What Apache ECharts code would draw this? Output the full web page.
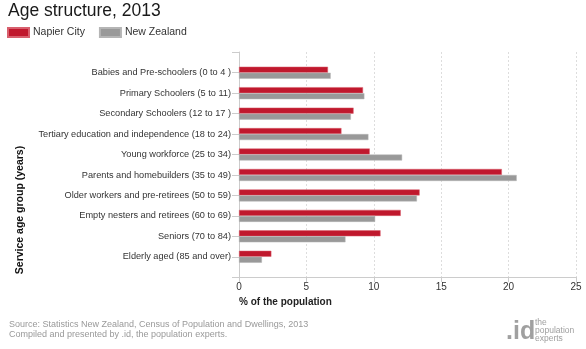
<!DOCTYPE html>
<html><head><meta charset="utf-8">
<script src="https://cdn.jsdelivr.net/npm/echarts@6/dist/echarts.min.js"></script>
<style>html,body{margin:0;padding:0;background:#fff}#c{width:586px;height:349px}</style>
</head><body><div id="c"></div>
<script>
const categories = [
  'Babies and Pre-schoolers (0 to 4 )',
  'Primary Schoolers (5 to 11)',
  'Secondary Schoolers (12 to 17 )',
  'Tertiary education and independence (18 to 24)',
  'Young workforce (25 to 34)',
  'Parents and homebuilders (35 to 49)',
  'Older workers and pre-retirees (50 to 59)',
  'Empty nesters and retirees (60 to 69)',
  'Seniors (70 to 84)',
  'Elderly aged (85 and over)'
];
const napierCity = [6.6, 9.2, 8.5, 7.6, 9.7, 19.5, 13.4, 12.0, 10.5, 2.4];
const newZealand = [6.8, 9.3, 8.3, 9.6, 12.1, 20.6, 13.2, 10.1, 7.9, 1.7];
const xTicks = [0, 5, 10, 15, 20, 25];

const font = 'Liberation Sans, Arial, sans-serif';
const chart = echarts.init(document.getElementById('c'), null, {renderer: 'canvas'});
chart.setOption({
  animation: false,
  textStyle: {fontFamily: font},
  title: {
    text: 'Age structure, 2013', left: 8, top: 2, padding: 0,
    textStyle: {fontSize: 17.5, fontWeight: 'normal', color: '#1a1a1a', fontFamily: font}
  },
  legend: {
    left: 7, top: 27, padding: 0, itemWidth: 21, itemHeight: 9, itemGap: 14,
    icon: 'rect',
    textStyle: {fontSize: 10.5, color: '#333', fontFamily: font, padding: [0, 0, 0, -1]},
    data: ['Napier City', 'New Zealand']
  },
  grid: [
    {left: 239, right: 10, top: 52, height: 225},
    {left: 239, right: 10, top: 62.5, height: 204.5}
  ],
  xAxis: [
    {
      type: 'value', gridIndex: 0, min: xTicks[0], max: xTicks[xTicks.length - 1], interval: 5,
      axisLine: {show: true, lineStyle: {color: '#ccc'}},
      axisTick: {show: true, length: 5, lineStyle: {color: '#ccc'}},
      axisLabel: {fontSize: 10, color: '#333', margin: 5, fontFamily: font},
      splitLine: {show: true, lineStyle: {color: '#ddd', type: [2, 2]}},
      name: '% of the population', nameLocation: 'start', nameGap: 0,
      nameTextStyle: {align: 'left', verticalAlign: 'top', fontSize: 10, fontWeight: 'bold', color: '#222', padding: [20, 0, 0, 0], fontFamily: font}
    },
    {
      type: 'value', gridIndex: 1, min: xTicks[0], max: xTicks[xTicks.length - 1],
      show: false
    }
  ],
  yAxis: [
    {
      type: 'value', gridIndex: 0, min: 0, max: 1, interval: 1,
      axisLine: {show: true, lineStyle: {color: '#ccc'}},
      axisTick: {show: true, length: 7, lineStyle: {color: '#ccc'}},
      axisLabel: {show: false}, splitLine: {show: false}
    },
    {
      type: 'category', gridIndex: 1, inverse: true, data: categories,
      axisLine: {show: false},
      axisTick: {show: true, alignWithLabel: true, length: 7, lineStyle: {color: '#ccc'}},
      axisLabel: {fontSize: 9.2, color: '#333', margin: 8, fontFamily: font}
    }
  ],
  series: [
    {
      name: 'Napier City', type: 'bar', xAxisIndex: 1, yAxisIndex: 1,
      data: napierCity, barWidth: 6, barGap: '0%',
      itemStyle: {color: '#c0182d', borderColor: '#d8606e', borderWidth: 0.5}
    },
    {
      name: 'New Zealand', type: 'bar', xAxisIndex: 1, yAxisIndex: 1,
      data: newZealand, barWidth: 6, barGap: '0%',
      itemStyle: {color: '#999999', borderColor: '#b5b5b5', borderWidth: 0.5}
    }
  ],
  graphic: [
    {
      type: 'text', x: 20, y: 210, rotation: Math.PI / 2,
      style: {text: 'Service age group (years)', font: 'bold 10.5px ' + font, fill: '#111', align: 'center', verticalAlign: 'middle'}
    },
    {
      type: 'text', x: 9, y: 320,
      style: {text: 'Source: Statistics New Zealand, Census of Population and Dwellings, 2013', font: '9px ' + font, fill: '#999'}
    },
    {
      type: 'text', x: 9, y: 330,
      style: {text: 'Compiled and presented by .id, the population experts.', font: '9px ' + font, fill: '#999'}
    },
    {
      type: 'text', x: 506, y: 320,
      style: {text: '.id', font: 'bold 25px ' + font, fill: '#a0a0a0'}
    },
    {
      type: 'text', x: 535, y: 319,
      style: {text: 'the\npopulation\nexperts', font: '8.5px ' + font, fill: '#a0a0a0', lineHeight: 8}
    }
  ]
});
</script></body></html>
